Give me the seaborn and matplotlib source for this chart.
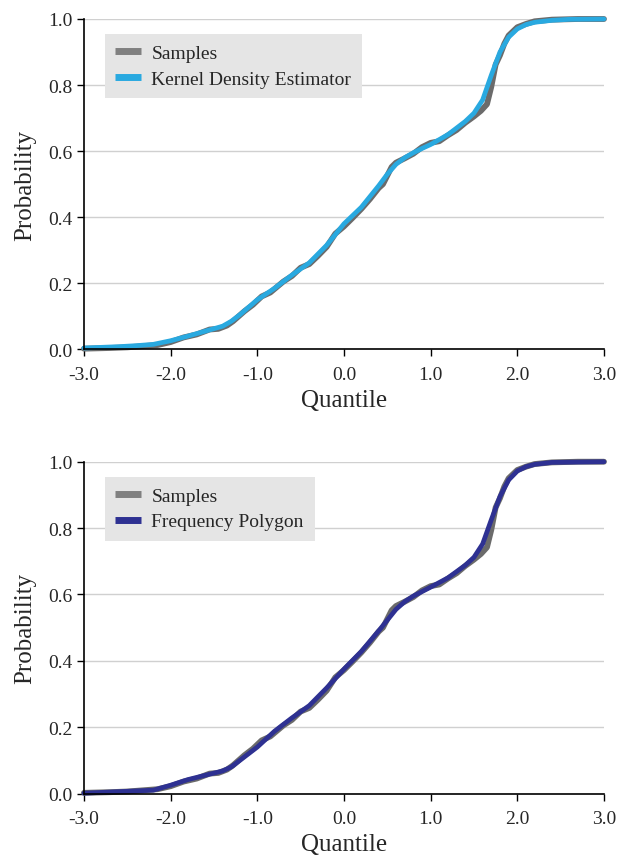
import matplotlib
matplotlib.use("Agg")
import matplotlib.pyplot as plt
import seaborn as sns
import pandas as pd

samples_x = [-3.0, -2.7, -2.5, -2.3, -2.15, -2.0, -1.85, -1.7, -1.55, -1.45, -1.35, -1.28,
             -1.15, -1.05, -0.95, -0.85, -0.7, -0.6, -0.5, -0.4, -0.3, -0.2, -0.1, 0.0,
             0.1, 0.2, 0.3, 0.4, 0.45, 0.55, 0.6, 0.7, 0.8, 0.9, 1.0, 1.1, 1.2, 1.3, 1.4,
             1.5, 1.58, 1.65, 1.7, 1.75, 1.8, 1.85, 1.9, 2.0, 2.1, 2.2, 2.4, 2.7, 3.0]
samples_y = [0.002, 0.004, 0.006, 0.010, 0.013, 0.022, 0.036, 0.045, 0.060, 0.062, 0.072, 0.085,
             0.115, 0.135, 0.160, 0.172, 0.205, 0.222, 0.247, 0.258, 0.283, 0.310, 0.350, 0.372,
             0.398, 0.425, 0.455, 0.488, 0.500, 0.552, 0.565, 0.578, 0.592, 0.612, 0.625, 0.630,
             0.648, 0.664, 0.686, 0.705, 0.722, 0.742, 0.795, 0.862, 0.890, 0.925, 0.950, 0.975,
             0.985, 0.993, 0.998, 1.0, 1.0]

# kernel density estimator CDF
kde_x = [-3.0, -2.8, -2.6, -2.4, -2.2, -2.0, -1.8, -1.6, -1.4, -1.3, -1.2, -1.0, -0.8, -0.6,
         -0.4, -0.2, 0.0, 0.2, 0.4, 0.5, 0.6, 0.7, 0.8, 0.9, 1.0, 1.2, 1.4, 1.5, 1.6, 1.7,
         1.8, 1.9, 2.0, 2.1, 2.2, 2.4, 2.6, 3.0]
kde_y = [0.004, 0.006, 0.008, 0.011, 0.015, 0.026, 0.040, 0.055, 0.070, 0.085, 0.105, 0.150,
         0.185, 0.225, 0.262, 0.315, 0.380, 0.430, 0.495, 0.530, 0.560, 0.580, 0.595, 0.608,
         0.620, 0.650, 0.690, 0.715, 0.755, 0.830, 0.900, 0.945, 0.970, 0.983, 0.990, 0.996,
         0.999, 1.000]

# frequency polygon CDF
fp_x = [-3.0, -2.2, -2.0, -1.8, -1.6, -1.4, -1.3, -1.0, -0.8, -0.6, -0.4, -0.2, 0.0, 0.2,
        0.4, 0.6, 0.7, 0.8, 1.0, 1.2, 1.4, 1.5, 1.6, 1.7, 1.8, 1.9, 2.0, 2.1, 2.2, 2.4, 3.0]
fp_y = [0.001, 0.010, 0.025, 0.042, 0.055, 0.068, 0.080, 0.140, 0.188, 0.228, 0.265, 0.318,
        0.375, 0.428, 0.490, 0.555, 0.578, 0.595, 0.622, 0.650, 0.688, 0.712, 0.752, 0.825,
        0.895, 0.945, 0.972, 0.985, 0.992, 0.998, 1.000]

x_ticks = [-3, -2, -1, 0, 1, 2, 3]
y_ticks = [0, 0.2, 0.4, 0.6, 0.8, 1.0]

sns.set_style("white")
plt.rcParams['font.family'] = ['Liberation Serif', 'DejaVu Serif']
plt.rcParams['axes.unicode_minus'] = False

samples = pd.DataFrame({'Quantile': samples_x, 'Probability': samples_y})
kde = pd.DataFrame({'Quantile': kde_x, 'Probability': kde_y})
fp = pd.DataFrame({'Quantile': fp_x, 'Probability': fp_y})

fig = plt.figure(figsize=(6.22, 8.62), dpi=100)
ax1 = fig.add_axes([0.135, 0.5936, 0.836, 0.3832])
ax2 = fig.add_axes([0.135, 0.0783, 0.836, 0.3849])

panels = [(ax1, kde, 'Kernel Density Estimator', '#29a9e0'),
          (ax2, fp, 'Frequency Polygon', '#2e3192')]

for ax, est, name, col in panels:
    sns.lineplot(data=samples, x='Quantile', y='Probability', ax=ax, color='#6b6b6b',
                 lw=4.2, sort=False, estimator=None, label='Samples',
                 solid_capstyle='round', solid_joinstyle='round', clip_on=False)
    sns.lineplot(data=est, x='Quantile', y='Probability', ax=ax, color=col,
                 lw=3.4, sort=False, estimator=None, label=name,
                 solid_capstyle='round', solid_joinstyle='round', clip_on=False)
    ax.set_xlim(-3, 3)
    ax.set_ylim(0, 1)
    ax.set_xticks(x_ticks)
    ax.set_xticklabels([f"{v:.1f}" for v in x_ticks])
    ax.set_yticks(y_ticks)
    ax.set_yticklabels([f"{v:.1f}" for v in y_ticks])
    ax.yaxis.grid(True, color='#d0d0d0', lw=1.0)
    ax.xaxis.grid(False)
    ax.set_axisbelow(True)
    sns.despine(ax=ax)
    for s in ['left', 'bottom']:
        ax.spines[s].set_color('black')
        ax.spines[s].set_linewidth(1.2)
    ax.tick_params(axis='both', direction='out', length=5, width=1.0, color='black',
                   labelsize=14, bottom=True, left=True)
    ax.tick_params(axis='x', pad=7)
    ax.tick_params(axis='y', pad=3.5)
    ax.set_xlabel('Quantile', fontsize=18, labelpad=4)
    ax.set_ylabel('Probability', fontsize=18, labelpad=8)
    leg = ax.legend(loc='upper left', bbox_to_anchor=(0.04, 0.955), fontsize=14,
                    frameon=True, fancybox=False, handlelength=1.3, handletextpad=0.55,
                    labelspacing=0.4, borderpad=0.55, borderaxespad=0)
    leg.get_frame().set_facecolor('#e5e5e5')
    leg.get_frame().set_edgecolor('none')
    leg.get_frame().set_alpha(1)
    leg.legend_handles[0].set_color('#808080')
    for h in leg.legend_handles:
        h.set_linewidth(5)
        h.set_solid_capstyle('butt')

fig.savefig('out.png', dpi=100)
